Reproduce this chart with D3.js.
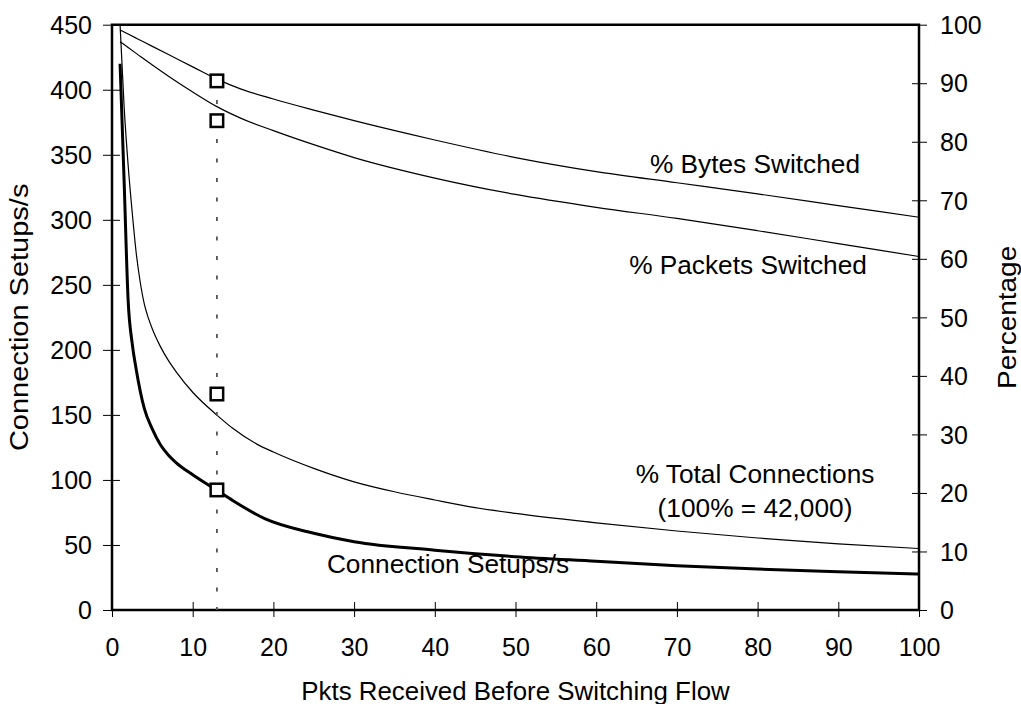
<!DOCTYPE html>
<html>
<head>
<meta charset="utf-8">
<script src="https://cdn.jsdelivr.net/npm/d3@7"></script>
<style>
  html, body { margin: 0; padding: 0; background: #fff; }
  svg text { font-family: "Liberation Sans", Arial, Helvetica, sans-serif; fill: #000; }
</style>
</head>
<body>
<svg id="chart" width="1021" height="704"></svg>
<script>
// ---- data ----
const xTicks = [0,10,20,30,40,50,60,70,80,90,100];
const leftTicks = [0,50,100,150,200,250,300,350,400,450];
const rightTicks = [0,10,20,30,40,50,60,70,80,90,100];

const bytesX = [1,2,3,5,7,10,13,16,20,25,30,40,50,60,70,80,90,100];
const bytesY = [99.1,98.4,97.7,96.3,94.9,92.8,90.7,89.0,87.3,85.4,83.6,80.3,77.3,74.9,73,71.1,69.1,67.1];

const packetsX = [1,2,3,5,7,10,13,16,20,25,30,40,50,60,70,80,90,100];
const packetsY = [97.1,96.1,95.1,93.1,91.2,88.5,86.0,84.0,81.9,79.5,77.3,73.8,71.0,68.8,66.9,64.8,62.6,60.4];

const connPctX = [1,1.5,2,2.5,3,3.5,4,4.5,5,6,7,8,10,13,15,18,20,25,30,35,40,45,50,60,70,80,90,100];
const connPctY = [100,86,76,68,61,56,52.3,49.9,48,45,42.6,40.6,37.2,33.3,31,28.3,27,24.2,21.9,20.2,18.8,17.5,16.5,14.9,13.5,12.3,11.3,10.5];

const setupsX = [1,1.5,2,2.5,3,4,5,6,7,8,10,13,15,19,25,30,40,50,60,70,80,90,100];
const setupsY = [420,330,238,205,185,155,139,127,119,113,104,92,84,70,59,52.5,46,41,37.5,34,31.5,29.5,27.7];

const markerX = 13;
const markerBytes = 90.4;     // %
const markerPackets = 83.6;   // %
const markerConnPct = 36.9;   // %
const markerSetups = 92.3;    // setups/s

// ---- layout ----
const svg = d3.select("#chart");
const L = 112, R = 919, T = 24.7, B = 610;
const x = d3.scaleLinear().domain([0,100]).range([L,R]);
const yL = d3.scaleLinear().domain([0,450]).range([B,T]);
const yR = d3.scaleLinear().domain([0,100]).range([B,T]);
const fs = 25;
const sx = 1.05;   // text in the reference is slightly wide

// axes
const gx = svg.append("g").attr("transform",`translate(0,${B})`)
  .call(d3.axisBottom(x).tickValues(xTicks).tickSize(0).tickPadding(0));
gx.selectAll(".tick line").attr("y1",-8).attr("y2",7).attr("stroke","#000").attr("stroke-width",1);
gx.selectAll(".tick text").attr("y",46).attr("dy",0).style("font-size",fs+"px");

const gl = svg.append("g").attr("transform",`translate(${L},0)`)
  .call(d3.axisLeft(yL).tickValues(leftTicks).tickSize(0).tickPadding(0));
gl.selectAll(".tick line").attr("x1",-9).attr("x2",8).attr("stroke","#000").attr("stroke-width",1);
gl.selectAll(".tick text").attr("x",-20).attr("dy","0.35em").style("font-size",fs+"px");

const gr = svg.append("g").attr("transform",`translate(${R},0)`)
  .call(d3.axisRight(yR).tickValues(rightTicks).tickSize(0).tickPadding(0));
gr.selectAll(".tick line").attr("x1",-7).attr("x2",8).attr("stroke","#000").attr("stroke-width",1);
gr.selectAll(".tick text").attr("x",21).attr("dy","0.35em").style("font-size",fs+"px");

[gx,gl,gr].forEach(g => g.select(".domain").remove());

// frame
svg.append("path").attr("d",`M${L},${B}V${T}H${R}V${B}Z`)
  .attr("fill","none").attr("stroke","#000").attr("stroke-width",2.5).attr("stroke-linejoin","miter");

// curves
const line = (ys) => d3.line().x(d => x(d[0])).y(d => ys(d[1])).curve(d3.curveMonotoneX);
const zip = (a,b) => a.map((v,i) => [v,b[i]]);

svg.append("path").datum(zip(bytesX,bytesY)).attr("d",line(yR))
  .attr("fill","none").attr("stroke","#000").attr("stroke-width",1.2);
svg.append("path").datum(zip(packetsX,packetsY)).attr("d",line(yR))
  .attr("fill","none").attr("stroke","#000").attr("stroke-width",1.2);
svg.append("path").datum(zip(connPctX,connPctY)).attr("d",line(yR))
  .attr("fill","none").attr("stroke","#000").attr("stroke-width",1.2);
svg.append("path").datum(zip(setupsX,setupsY)).attr("d",line(yL))
  .attr("fill","none").attr("stroke","#000").attr("stroke-width",3);

// dotted reference line
svg.append("line")
  .attr("x1",x(markerX)).attr("x2",x(markerX))
  .attr("y1",yR(markerBytes)+19).attr("y2",yL(0))
  .attr("stroke","#555").attr("stroke-width",1.8)
  .attr("stroke-dasharray","4,15.5");

// markers
const ms = 12.5;
const markers = [[markerX, yR(markerBytes)],[markerX, yR(markerPackets)],[markerX, yR(markerConnPct)],[markerX, yL(markerSetups)]];
svg.selectAll("rect.mk").data(markers).join("rect").attr("class","mk")
  .attr("x",d => x(d[0])-ms/2).attr("y",d => d[1]-ms/2)
  .attr("width",ms).attr("height",ms)
  .attr("fill","#fff").attr("stroke","#000").attr("stroke-width",2.5);

// series labels
const lab = (t, xx, yy) => svg.append("text")
  .attr("transform",`translate(${xx},${yy}) scale(${sx},1)`)
  .attr("text-anchor","middle").style("font-size",fs+"px").text(t);
lab("% Bytes Switched", 755, 173);
lab("% Packets Switched", 748, 274);
lab("% Total Connections", 755, 483);
lab("(100% = 42,000)", 755, 517);
lab("Connection Setups/s", 448, 573);

// axis titles
svg.append("text").attr("transform",`translate(28,${(T+B)/2}) rotate(-90) scale(1.16,1)`)
  .attr("text-anchor","middle").style("font-size",fs+"px").text("Connection Setups/s");
svg.append("text").attr("transform",`translate(1016,${(T+B)/2}) rotate(-90) scale(1.12,1)`)
  .attr("text-anchor","middle").style("font-size",fs+"px").text("Percentage");
svg.append("text").attr("transform",`translate(${(L+R)/2},700) scale(1.035,1)`)
  .attr("text-anchor","middle").style("font-size",fs+"px").text("Pkts Received Before Switching Flow");
</script>
</body>
</html>
